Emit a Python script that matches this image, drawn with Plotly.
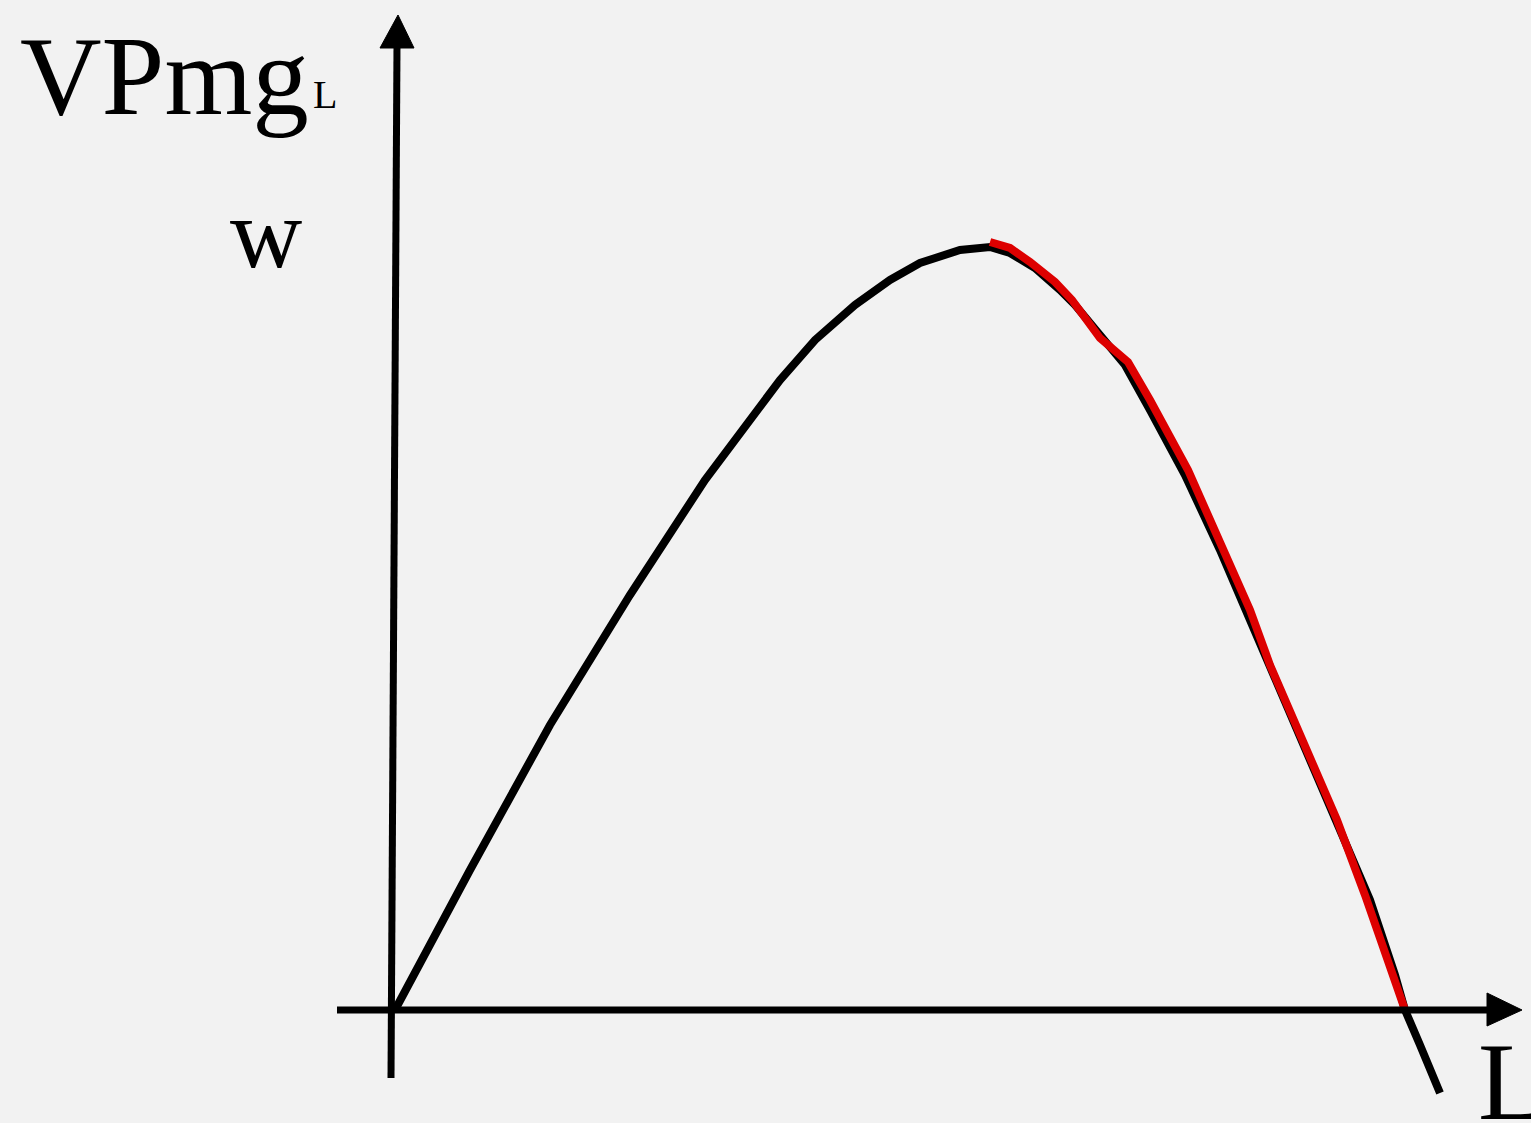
import plotly.graph_objects as go

# Value of marginal product of labour (VPmg_L) against labour L
# black: full VPmg_L curve
L_curve = [0, 75, 155, 235, 310, 350, 385, 420, 460, 495, 525, 565, 595,
           615, 640, 665, 680, 705, 730, 755, 790, 825, 855, 880, 910, 945,
           975, 1000, 1010, 1025, 1045]
vpmg_curve = [0, 140, 285, 415, 530, 585, 630, 670, 705, 730, 747, 760, 763,
              757, 742, 720, 705, 675, 645, 600, 535, 460, 390, 330, 265, 180,
              110, 35, 0, -35, -83]

# red: falling section from the peak down to VPmg_L = 0 (labour demand)
L_demand = [595, 615, 635, 660, 677, 705, 733, 755, 793, 827, 855, 875, 905,
            942, 970, 993, 1010]
vpmg_demand = [768, 762, 748, 728, 710, 672, 648, 610, 540, 465, 400, 345,
               275, 190, 115, 50, 0]

BG = "#f2f2f2"
INK = "#000000"
RED = "#dd0000"
SERIF = "Liberation Serif"

fig = go.Figure()
fig.add_trace(go.Scatter(x=L_curve, y=vpmg_curve, mode="lines",
                         line=dict(color=INK, width=8), hoverinfo="skip"))
fig.add_trace(go.Scatter(x=L_demand, y=vpmg_demand, mode="lines",
                         line=dict(color=RED, width=8), hoverinfo="skip"))

# hand-drawn axes with arrowheads
shapes = [
    dict(type="line", x0=-4, y0=-68, x1=2, y1=965, line=dict(color=INK, width=7)),
    dict(type="path", path="M -15 962 L 19 962 L 3 995 Z",
         fillcolor=INK, line=dict(color=INK, width=1)),
    dict(type="line", x0=-58, y0=0, x1=1095, y1=0, line=dict(color=INK, width=7)),
    dict(type="path", path="M 1092 17 L 1092 -16 L 1127 0 Z",
         fillcolor=INK, line=dict(color=INK, width=1)),
]
for s in shapes:
    s.update(xref="x", yref="y", layer="above")

annotations = [
    dict(x=-377, y=935, text="VPmg", xanchor="left", yanchor="middle",
         font=dict(family=SERIF, size=113, color=INK)),
    dict(x=-84, y=916, text="L", xanchor="left", yanchor="middle",
         font=dict(family=SERIF, size=40, color=INK)),
    dict(x=-167, y=777, text="w", xanchor="left", yanchor="middle",
         font=dict(family=SERIF, size=100, color=INK)),
    dict(x=1081, y=-72, text="L", xanchor="left", yanchor="middle",
         font=dict(family=SERIF, size=110, color=INK)),
]
for a in annotations:
    a.update(xref="x", yref="y", showarrow=False)

fig.update_layout(
    width=1531, height=1123,
    margin=dict(l=0, r=0, t=0, b=0),
    paper_bgcolor=BG, plot_bgcolor=BG,
    showlegend=False,
    shapes=shapes, annotations=annotations,
    xaxis=dict(range=[-395, 1136], visible=False, fixedrange=True),
    yaxis=dict(range=[-113, 1010], visible=False, fixedrange=True),
)

fig.write_html("out.html", config={"displayModeBar": False})
